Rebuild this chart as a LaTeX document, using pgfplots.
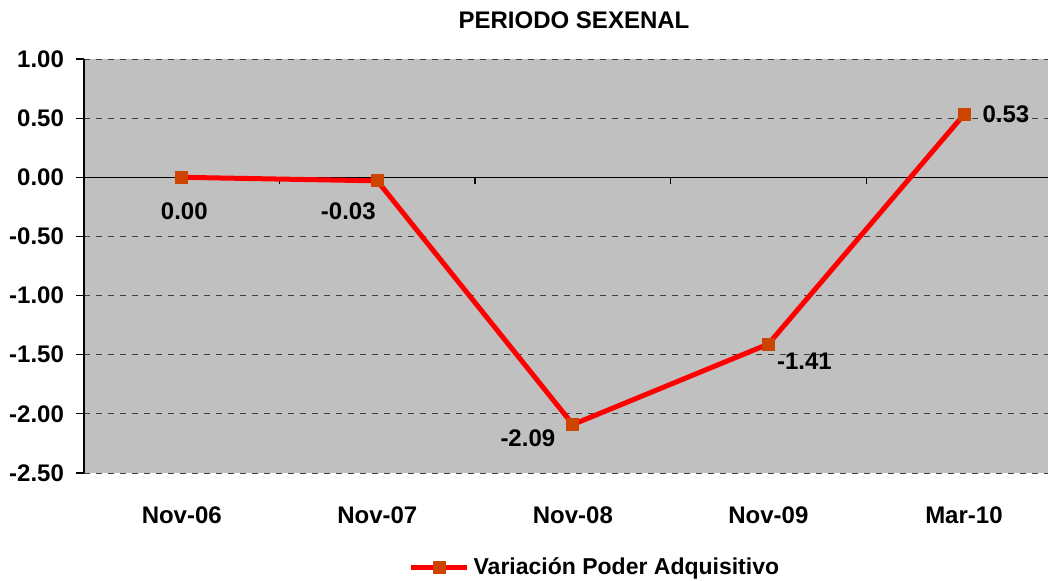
\documentclass[border=0pt]{standalone}
\usepackage{pgfplots}
\pgfplotsset{compat=1.18}
\usepackage{fontspec}
\setmainfont{Liberation Sans}
\definecolor{plotgrey}{HTML}{C0C0C0}
\definecolor{linered}{HTML}{FF0000}
\definecolor{markbrown}{HTML}{CC4400}
\definecolor{gridgrey}{HTML}{404040}

\begin{document}
\begin{tikzpicture}[font=\fontsize{12}{14}\selectfont\bfseries]
\useasboundingbox (0,0) rectangle (524pt,290pt);
\node at (287pt,280pt) {PERIODO SEXENAL};
\begin{axis}[
  at={(42pt,53.5pt)}, anchor=south west,
  scale only axis, width=482pt, height=207pt,
  xmin=-0.5, xmax=4.43, ymin=-2.5, ymax=1.0,
  ytick={-2.5,-2,...,1}, xtick={0,1,2,3,4},
  xticklabels={Nov-06,Nov-07,Nov-08,Nov-09,Mar-10},
  axis y line*=left, axis x line*=bottom,
  x axis line style={draw=none},
  y axis line style={black, line width=0.6pt, -},
  xtick style={draw=none},
  ytick style={black, line width=0.6pt},
  tick align=outside, major tick length=4pt,
  ymajorgrids, major grid style={gridgrey, dashed, line width=0.5pt},
  axis background/.style={fill=plotgrey},
  /pgf/number format/.cd, fixed, fixed zerofill, precision=2, assume math mode=true,
  /pgfplots/.cd,
  tick label style={font=\fontsize{12}{14}\selectfont\bfseries},
  xticklabel style={yshift=-9.5pt},
  yticklabel style={xshift=-2.5pt},
  clip=false,
  legend style={at={(0.531,-0.229)}, anchor=center, draw=none, fill=none,
    font=\fontsize{11.5}{13}\selectfont\bfseries},
  legend image code/.code={
    \draw[#1, mark=none] (0pt,0pt) -- (28pt,0pt);
    \draw[#1, only marks] plot coordinates {(14pt,0pt)};
  },
]
\draw[black, line width=0.6pt] (axis cs:-0.5,0) -- (axis cs:4.43,0);
\pgfplotsinvokeforeach{0.5,1.5,2.5,3.5}{
  \draw[black, line width=0.6pt] (axis cs:#1,0) -- ([yshift=-3.5pt]axis cs:#1,0);
}
\addplot[linered, line width=2.5pt,
  mark=square*, mark size=3pt,
  mark options={fill=markbrown, draw=markbrown, line width=0.4pt},
  nodes near coords, point meta=explicit,
  nodes near coords style={black, anchor=center, font=\fontsize{12}{14}\selectfont\bfseries,
    /pgf/number format/.cd, fixed, fixed zerofill, precision=2, assume math mode=true},
  coordinate style/.condition={\coordindex==0}{xshift=1.25pt, yshift=-17pt},
  coordinate style/.condition={\coordindex==1}{xshift=-14.5pt, yshift=-15pt},
  coordinate style/.condition={\coordindex==2}{xshift=-22.5pt, yshift=-7pt},
  coordinate style/.condition={\coordindex==3}{xshift=18pt, yshift=-8.5pt},
  coordinate style/.condition={\coordindex==4}{xshift=21pt, yshift=0.25pt},
] table[meta=v] {
x y v
0 0.00 0.00
1 -0.03 -0.03
2 -2.09 -2.09
3 -1.41 -1.41
4 0.53 0.53
};
\addlegendentry{Variación Poder Adquisitivo}
\end{axis}
\end{tikzpicture}
\end{document}
